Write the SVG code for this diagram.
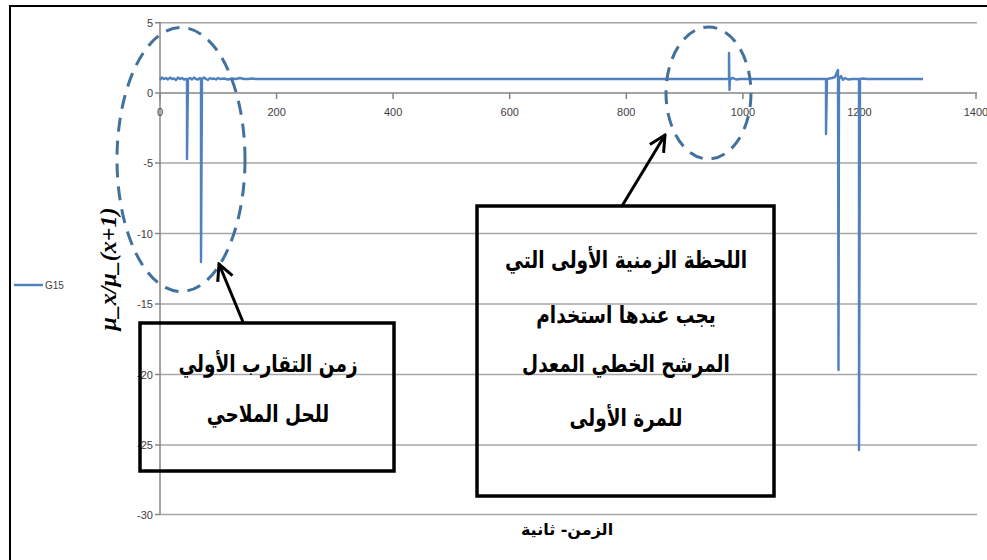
<svg xmlns="http://www.w3.org/2000/svg" width="987" height="560" viewBox="0 0 987 560">
<defs>
<style>
.grid{stroke:#a6a6a6;stroke-width:1.5;fill:none}
.axis{stroke:#868686;stroke-width:1.5;fill:none}
.tick{font-family:"Liberation Sans",Arial,sans-serif;font-size:11px;fill:#404040}
.series{stroke:#4f81bd;stroke-width:2.4;fill:none;stroke-linejoin:round}
.oval{stroke:#41719c;stroke-width:3;fill:none;stroke-dasharray:14 9}
.box{stroke:#000;stroke-width:3.5;fill:none}
.lbl{font-family:"DejaVu Sans","Liberation Sans",sans-serif;font-weight:bold;font-size:18.5px;fill:#000;text-anchor:middle}
.arrow{stroke:#000;stroke-width:3;fill:none}
</style>
<marker id="ah" viewBox="0 0 20 20" refX="18" refY="10" markerWidth="20" markerHeight="20" markerUnits="userSpaceOnUse" orient="auto">
<path d="M2,2 L18,10 L2,18" fill="none" stroke="#000" stroke-width="3"/>
</marker>
</defs>
<rect width="987" height="560" fill="#fff"/>
<path d="M10,560 V6 H987" stroke="#000" stroke-width="2" fill="none"/>
<g id="grid">
<line class="grid" x1="160" y1="22.7" x2="977" y2="22.7"/>
<line class="grid" x1="160" y1="163" x2="977" y2="163"/>
<line class="grid" x1="160" y1="233.5" x2="977" y2="233.5"/>
<line class="grid" x1="160" y1="304" x2="977" y2="304"/>
<line class="grid" x1="160" y1="374.5" x2="977" y2="374.5"/>
<line class="grid" x1="160" y1="445" x2="977" y2="445"/>
<line class="grid" x1="160" y1="514.5" x2="977" y2="514.5"/>
</g>
<g id="axes">
<line class="axis" x1="160" y1="22" x2="160" y2="515"/>
<line class="axis" x1="160" y1="93" x2="977" y2="93"/>
<path class="axis" d="M155,22.7H160M155,93H160M155,163H160M155,233.5H160M155,304H160M155,374.5H160M155,445H160M155,514.5H160"/>
<path class="axis" d="M160,93V99M276.6,93V99M393.1,93V99M509.7,93V99M626.3,93V99M742.9,93V99M859.4,93V99M976,93V99"/>
</g>
<g id="ylabels" class="tick" text-anchor="end">
<text x="153" y="26.5">5</text>
<text x="153" y="97">0</text>
<text x="153" y="167">-5</text>
<text x="153" y="237.5">-10</text>
<text x="153" y="308">-15</text>
<text x="153" y="378.5">-20</text>
<text x="153" y="449">-25</text>
<text x="153" y="518.5">-30</text>
</g>
<g id="xlabels" class="tick" text-anchor="middle">
<text x="160" y="116">0</text>
<text x="276.6" y="116">200</text>
<text x="393.1" y="116">400</text>
<text x="509.7" y="116">600</text>
<text x="626.3" y="116">800</text>
<text x="742.9" y="116">1000</text>
<text x="859.4" y="116">1200</text>
<text x="976" y="116">1400</text>
</g>
<g id="series">
<polyline class="series" points="160,80 162,77.5 164,79 166,78 168,79.5 170,77.5 172,79 174,78.5 176,80 178,77.5 180,79 182,78 184,79.5 186,79 187,79 187,159 188,79 190,78 192,79.5 194,77.5 196,79 198,79.5 200,78 201,79 201,262 202,79 204,77.5 206,79 208,80 210,78 212,79 214,78.5 216,79.5 218,78 220,79 224,78.5 228,79.5 232,78.5 236,79 240,78 244,79 248,79 252,78.5 256,79 728,79 729,79 729,53 729.5,90 730,79 733,78 736,79.5 740,79 826,79 826,134 827,79 832,78 835,77 837,72 838,70 838.5,370 839,79 841,76 843,80 845,78 848,79.5 852,79 858,79 859,79 859,450 860,79 863,78.5 867,79 923,79"/>
</g>
<g id="legend">
<line x1="14" y1="285" x2="43" y2="285" stroke="#4f81bd" stroke-width="2.4"/>
<text x="45" y="289" font-family="Liberation Sans,Arial,sans-serif" font-size="10" fill="#404040">G15</text>
</g>
<g id="y-title">
<text transform="translate(116,269) rotate(-90)" text-anchor="middle" font-family="Liberation Serif,DejaVu Serif,serif" font-weight="bold" font-style="italic" font-size="24" fill="#000">μ_x/μ_(x+1)</text>
</g>
<g id="x-title">
<text x="567" y="535" text-anchor="middle" font-family="DejaVu Sans,Liberation Sans,sans-serif" font-weight="bold" font-size="16" fill="#000">الزمن- ثانية</text>
</g>
<g id="ovals">
<ellipse id="oval-left" class="oval" cx="181" cy="159.5" rx="64" ry="132"/>
<ellipse id="oval-right" class="oval" cx="708.5" cy="93" rx="42.5" ry="66"/>
</g>
<g id="connectors">
<line class="arrow" x1="243" y1="322" x2="219" y2="264" marker-end="url(#ah)"/>
<line class="arrow" x1="622" y1="206" x2="665" y2="135" marker-end="url(#ah)"/>
</g>
<g id="box-left">
<rect class="box" x="140" y="323" width="254" height="148"/>
<text class="lbl" transform="translate(268,372) scale(1,1.25)" direction="rtl">زمن التقارب الأولي</text>
<text class="lbl" transform="translate(268,422) scale(1,1.25)" direction="rtl">للحل الملاحي</text>
</g>
<g id="box-right">
<rect class="box" x="477" y="206" width="297" height="290"/>
<text class="lbl" transform="translate(626,268) scale(1,1.25)" direction="rtl">اللحظة الزمنية الأولى التي</text>
<text class="lbl" transform="translate(626,323) scale(1,1.25)" direction="rtl">يجب عندها استخدام</text>
<text class="lbl" transform="translate(626,372) scale(1,1.25)" direction="rtl">المرشح الخطي المعدل</text>
<text class="lbl" transform="translate(626,426) scale(1,1.25)" direction="rtl">للمرة الأولى</text>
</g>
</svg>
